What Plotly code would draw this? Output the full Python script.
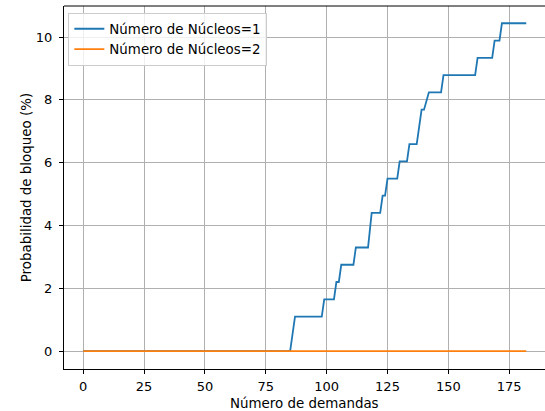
import plotly.graph_objects as go

# Data
demandas_n1 = [0, 85, 87, 98, 99, 103, 104, 105, 106, 111, 112, 117, 118.5, 122, 123, 124,
               125, 129, 130, 133, 134, 137, 139, 140, 142, 147, 148, 161, 162, 168, 169,
               171, 172, 182]
bloqueo_n1 = [0, 0, 1.10, 1.10, 1.65, 1.65, 2.20, 2.20, 2.75, 2.75, 3.30, 3.30, 4.40, 4.40,
              4.95, 4.95, 5.49, 5.49, 6.04, 6.04, 6.59, 6.59, 7.69, 7.69, 8.24, 8.24, 8.79,
              8.79, 9.34, 9.34, 9.89, 9.89, 10.44, 10.44]
demandas_n2 = [0, 182]
bloqueo_n2 = [0, 0]

x_ticks = [0, 25, 50, 75, 100, 125, 150, 175]
y_ticks = [0, 2, 4, 6, 8, 10]

FONT = "DejaVu Sans"
TICK_SIZE = 13
LABEL_SIZE = 13.4

fig = go.Figure()
fig.add_trace(go.Scatter(x=demandas_n1, y=bloqueo_n1, mode="lines",
                         name="Número de Núcleos=1",
                         line=dict(color="#1f77b4", width=1.8)))
fig.add_trace(go.Scatter(x=demandas_n2, y=bloqueo_n2, mode="lines",
                         name="Número de Núcleos=2",
                         line=dict(color="#ff7f0e", width=1.8)))

axis_common = dict(
    showgrid=True, gridcolor="#b0b0b0", gridwidth=0.95,
    zeroline=False, showline=True, linecolor="black", linewidth=1,
    ticks="outside", ticklen=4, tickwidth=1, tickcolor="black",
    tickfont=dict(family=FONT, size=TICK_SIZE, color="black"),
    automargin=False,
)

fig.update_layout(
    width=545, height=411,
    margin=dict(l=64, r=0, t=6, b=42),
    paper_bgcolor="white", plot_bgcolor="white",
    font=dict(family=FONT, size=LABEL_SIZE, color="black"),
    xaxis=dict(range=[-7.9, 189.7], tickvals=x_ticks, ticklabelstandoff=1, **axis_common),
    yaxis=dict(range=[-0.57, 10.99], tickvals=y_ticks, ticklabelstandoff=4, **axis_common),
    legend=dict(x=0.009, y=0.982, xanchor="left", yanchor="top",
                bgcolor="rgba(255,255,255,0.8)", bordercolor="#cccccc", borderwidth=1,
                font=dict(family=FONT, size=LABEL_SIZE), tracegroupgap=0),
    shapes=[dict(type="line", xref="paper", yref="paper", x0=0, x1=1, y0=1, y1=1,
                 line=dict(color="black", width=1))],
    annotations=[
        dict(text="Número de demandas", xref="paper", yref="paper", x=0.5, y=-0.0937,
             xanchor="center", yanchor="middle", showarrow=False,
             font=dict(family=FONT, size=LABEL_SIZE, color="black")),
        dict(text="Probabilidad de bloqueo (%)", xref="paper", yref="paper", x=-0.0775, y=0.5,
             xanchor="center", yanchor="middle", textangle=-90, showarrow=False,
             font=dict(family=FONT, size=LABEL_SIZE, color="black")),
    ],
)

fig.write_html("out.html", config={"displayModeBar": False},
               post_script="document.body.style.margin='0';")
